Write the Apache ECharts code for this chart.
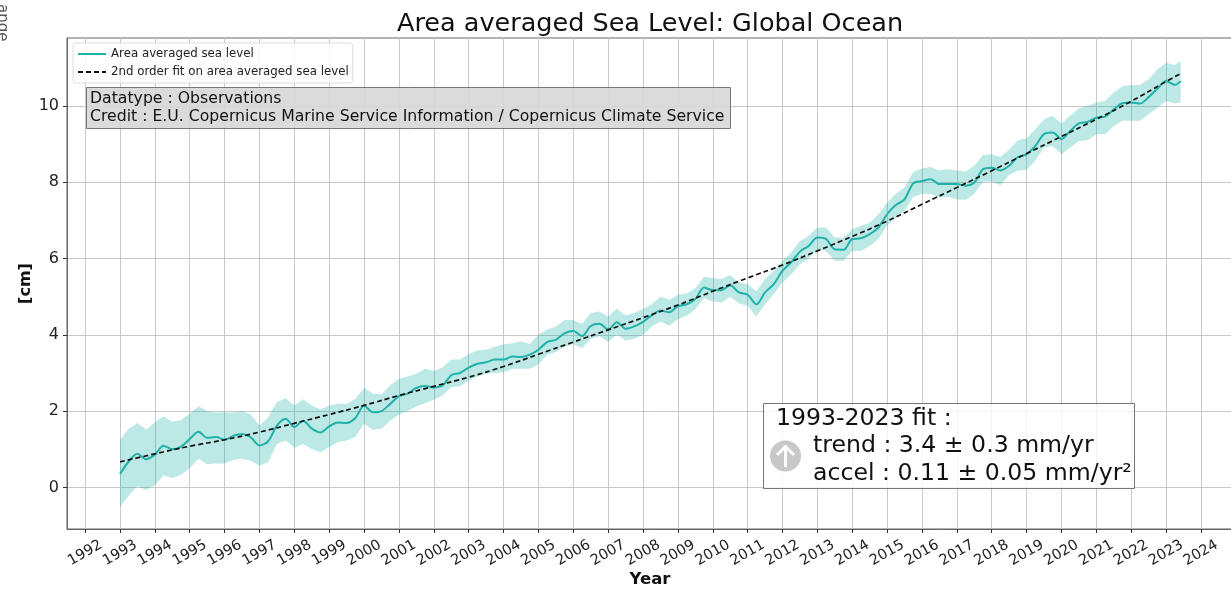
<!DOCTYPE html>
<html>
<head>
<meta charset="utf-8">
<title>Area averaged Sea Level</title>
<script src="https://cdn.jsdelivr.net/npm/echarts@6/dist/echarts.min.js"></script>
<style>
  html, body { margin: 0; padding: 0; background: #fff; }
  #chart { width: 1231px; height: 589px; }
</style>
</head>
<body>
<div id="chart"></div>
<script>
const yearTicks = [1992, 1993, 1994, 1995, 1996, 1997, 1998, 1999, 2000, 2001, 2002, 2003, 2004, 2005, 2006, 2007,
  2008, 2009, 2010, 2011, 2012, 2013, 2014, 2015, 2016, 2017, 2018, 2019, 2020, 2021, 2022, 2023, 2024]
const levelTicks = [0, 2, 4, 6, 8, 10]

const sampleYears = [
  1993, 1993.25, 1993.5, 1993.75, 1994, 1994.25, 1994.5, 1994.75,
  1995, 1995.25, 1995.5, 1995.75, 1996, 1996.25, 1996.5, 1996.75,
  1997, 1997.25, 1997.5, 1997.75, 1998, 1998.25, 1998.5, 1998.75,
  1999, 1999.25, 1999.5, 1999.75, 2000, 2000.25, 2000.5, 2000.75,
  2001, 2001.25, 2001.5, 2001.75, 2002, 2002.25, 2002.5, 2002.75,
  2003, 2003.25, 2003.5, 2003.75, 2004, 2004.25, 2004.5, 2004.75,
  2005, 2005.25, 2005.5, 2005.75, 2006, 2006.25, 2006.5, 2006.75,
  2007, 2007.25, 2007.5, 2007.75, 2008, 2008.25, 2008.5, 2008.75,
  2009, 2009.25, 2009.5, 2009.75, 2010, 2010.25, 2010.5, 2010.75,
  2011, 2011.25, 2011.5, 2011.75, 2012, 2012.25, 2012.5, 2012.75,
  2013, 2013.25, 2013.5, 2013.75, 2014, 2014.25, 2014.5, 2014.75,
  2015, 2015.25, 2015.5, 2015.75, 2016, 2016.25, 2016.5, 2016.75,
  2017, 2017.25, 2017.5, 2017.75, 2018, 2018.25, 2018.5, 2018.75,
  2019, 2019.25, 2019.5, 2019.75, 2020, 2020.25, 2020.5, 2020.75,
  2021, 2021.25, 2021.5, 2021.75, 2022, 2022.25, 2022.5, 2022.75,
  2023, 2023.25, 2023.42
]
const seaLevel = [
  0.35, 0.68, 0.88, 0.74, 0.86, 1.09, 1.00, 1.07,
  1.27, 1.46, 1.30, 1.32, 1.25, 1.35, 1.40, 1.31,
  1.10, 1.21, 1.62, 1.80, 1.58, 1.75, 1.54, 1.44,
  1.60, 1.70, 1.69, 1.82, 2.15, 1.97, 2.00, 2.19,
  2.39, 2.46, 2.61, 2.66, 2.62, 2.67, 2.94, 3.00,
  3.14, 3.24, 3.28, 3.35, 3.35, 3.43, 3.42, 3.48,
  3.61, 3.81, 3.87, 4.04, 4.10, 3.97, 4.23, 4.29,
  4.14, 4.33, 4.16, 4.22, 4.34, 4.51, 4.64, 4.59,
  4.75, 4.80, 4.94, 5.24, 5.17, 5.17, 5.30, 5.11,
  5.05, 4.80, 5.11, 5.33, 5.68, 5.90, 6.18, 6.33,
  6.55, 6.51, 6.24, 6.23, 6.51, 6.53, 6.64, 6.81,
  7.16, 7.40, 7.55, 7.97, 8.03, 8.08, 7.95, 7.95,
  7.95, 7.91, 7.99, 8.34, 8.38, 8.31, 8.43, 8.66,
  8.73, 8.95, 9.26, 9.30, 9.13, 9.34, 9.54, 9.58,
  9.69, 9.72, 9.91, 10.07, 10.09, 10.06, 10.23, 10.45,
  10.65, 10.55, 10.65
]
const bandUpper = [
  1.25, 1.54, 1.69, 1.52, 1.71, 1.86, 1.72, 1.77,
  1.93, 2.13, 2.00, 1.96, 1.97, 1.96, 2.00, 1.91,
  1.62, 1.84, 2.24, 2.34, 2.15, 2.31, 2.15, 2.04,
  2.15, 2.19, 2.19, 2.32, 2.61, 2.46, 2.44, 2.68,
  2.85, 2.91, 2.98, 3.11, 3.05, 3.14, 3.35, 3.35,
  3.50, 3.59, 3.61, 3.69, 3.75, 3.78, 3.83, 3.76,
  4.01, 4.13, 4.22, 4.39, 4.39, 4.29, 4.57, 4.61,
  4.48, 4.68, 4.51, 4.57, 4.68, 4.81, 5.00, 4.92,
  5.05, 5.08, 5.22, 5.52, 5.49, 5.46, 5.57, 5.37,
  5.33, 5.14, 5.46, 5.68, 5.94, 6.16, 6.46, 6.59,
  6.81, 6.81, 6.55, 6.55, 6.77, 6.86, 6.94, 7.16,
  7.46, 7.70, 7.86, 8.27, 8.36, 8.40, 8.31, 8.34,
  8.31, 8.28, 8.43, 8.72, 8.73, 8.66, 8.86, 9.10,
  9.15, 9.39, 9.65, 9.74, 9.54, 9.74, 9.94, 10.00,
  10.09, 10.13, 10.35, 10.52, 10.54, 10.55, 10.70, 10.96,
  11.13, 11.07, 11.18
]
const bandLower = [
  -0.51, -0.22, 0.04, -0.07, 0.06, 0.32, 0.25, 0.33,
  0.50, 0.75, 0.61, 0.63, 0.63, 0.72, 0.75, 0.70,
  0.57, 0.66, 1.14, 1.23, 1.04, 1.14, 1.01, 0.92,
  1.05, 1.19, 1.23, 1.32, 1.67, 1.51, 1.54, 1.75,
  1.91, 2.00, 2.12, 2.21, 2.30, 2.41, 2.63, 2.65,
  2.80, 2.91, 2.98, 3.00, 3.02, 3.11, 3.11, 3.11,
  3.22, 3.48, 3.55, 3.69, 3.76, 3.65, 3.90, 3.96,
  3.81, 4.01, 3.85, 3.90, 4.00, 4.22, 4.35, 4.24,
  4.41, 4.50, 4.67, 4.96, 4.87, 4.85, 5.00, 4.82,
  4.76, 4.48, 4.80, 5.07, 5.37, 5.59, 5.85, 6.00,
  6.24, 6.20, 5.94, 5.94, 6.20, 6.20, 6.33, 6.51,
  6.86, 7.07, 7.25, 7.61, 7.70, 7.70, 7.60, 7.62,
  7.55, 7.54, 7.69, 8.02, 8.01, 7.92, 8.19, 8.31,
  8.32, 8.56, 8.91, 8.95, 8.73, 8.91, 9.08, 9.10,
  9.26, 9.26, 9.47, 9.62, 9.61, 9.61, 9.78, 9.95,
  10.13, 10.06, 10.09
]

const fitYears = [1993, 1994, 1995, 1996, 1997, 1998, 1999, 2000, 2001, 2002, 2003, 2004, 2005, 2006, 2007, 2008,
  2009, 2010, 2011, 2012, 2013, 2014, 2015, 2016, 2017, 2018, 2019, 2020, 2021, 2022, 2023, 2023.42]
const fitLevel = [0.67, 0.88, 1.08, 1.25, 1.45, 1.68, 1.91, 2.15, 2.41, 2.65, 2.89, 3.17, 3.49, 3.81, 4.13, 4.45,
  4.78, 5.14, 5.49, 5.83, 6.20, 6.58, 6.98, 7.42, 7.86, 8.30, 8.75, 9.20, 9.65, 10.12, 10.64, 10.85]

const fontFamily = '"DejaVu Sans"'
const teal = '#20b2aa'

const pairs = (xs, ys) => xs.map((x, i) => [x, ys[i]])

// the shaded band is one closed polygon, upper edge out and lower edge back
const renderBand = (params, api) => {
  if (params.dataIndex !== 0) return
  const top = sampleYears.map((x, i) => api.coord([x, bandUpper[i]]))
  const bottom = sampleYears.map((x, i) => api.coord([x, bandLower[i]])).reverse()
  return {
    type: 'polygon',
    shape: { points: top.concat(bottom) },
    style: { fill: teal, opacity: 0.3 }
  }
}

const chart = echarts.init(document.getElementById('chart'))
const option = {
  animation: false,
  textStyle: { fontFamily },
  title: {
    text: 'Area averaged Sea Level: Global Ocean',
    left: 397,
    top: 11,
    padding: 0,
    textStyle: { fontFamily, fontSize: 25.5, fontWeight: 'normal', color: '#111' }
  },
  legend: {
    left: 73,
    top: 43,
    orient: 'vertical',
    data: ['Area averaged sea level', '2nd order fit on area averaged sea level'],
    itemWidth: 28,
    itemHeight: 10,
    itemGap: 6,
    padding: [5, 4, 5, 4],
    backgroundColor: 'rgba(255,255,255,0.8)',
    borderColor: '#ddd',
    borderWidth: 1,
    borderRadius: 3,
    itemStyle: { color: 'transparent', borderColor: 'transparent' },
    textStyle: { fontFamily, fontSize: 11.8, color: '#222' }
  },
  grid: {
    show: true,
    left: 67,
    top: 38,
    right: -2,
    bottom: 60,
    outerBoundsMode: 'none',
    borderColor: '#666',
    borderWidth: 1
  },
  xAxis: {
    type: 'value',
    min: 1991.48,
    max: 2024.92,
    name: 'Year',
    nameLocation: 'middle',
    nameGap: 42,
    nameMoveOverlap: false,
    nameTextStyle: { fontFamily, fontSize: 16.5, fontWeight: 'bold', color: '#111' },
    axisLine: { onZero: false, lineStyle: { color: '#666' } },
    axisTick: { length: 4, lineStyle: { color: '#333' }, customValues: yearTicks },
    axisLabel: {
      customValues: yearTicks,
      rotate: 30,
      align: 'center',
      verticalAlign: 'middle',
      margin: 24,
      fontSize: 14.5,
      color: '#222',
      formatter: v => String(v),
      hideOverlap: false
    },
    splitLine: { show: true, lineStyle: { color: '#c8c8c8', width: 1 } }
  },
  yAxis: {
    type: 'value',
    min: -1.09,
    max: 11.78,
    name: '[cm]',
    nameLocation: 'middle',
    nameGap: 33,
    nameMoveOverlap: false,
    nameTextStyle: { fontFamily, fontSize: 16, fontWeight: 'bold', color: '#111' },
    axisLine: { show: true, onZero: false, lineStyle: { color: '#666' } },
    axisTick: { show: true, length: 4, lineStyle: { color: '#333' }, customValues: levelTicks },
    axisLabel: { customValues: levelTicks, fontSize: 16, color: '#222', margin: 8 },
    splitLine: { show: true, lineStyle: { color: '#c8c8c8', width: 1 } }
  },
  series: [
    {
      name: 'band',
      type: 'custom',
      renderItem: renderBand,
      silent: true,
      data: pairs(sampleYears, bandUpper)
    },
    {
      name: 'Area averaged sea level',
      type: 'line',
      smooth: 0.3,
      symbol: 'none',
      color: teal,
      lineStyle: { color: teal, width: 2 },
      data: pairs(sampleYears, seaLevel)
    },
    {
      name: '2nd order fit on area averaged sea level',
      type: 'line',
      smooth: true,
      symbol: 'none',
      color: '#111',
      lineStyle: { color: '#111', width: 1.7, type: [5, 3] },
      data: pairs(fitYears, fitLevel)
    }
  ],
  graphic: [
    {
      type: 'text',
      x: 9,
      y: 4,
      rotation: -Math.PI / 2,
      style: { text: 'ange', font: '15px "DejaVu Sans"', fill: '#555' }
    },
    {
      type: 'rect',
      shape: { x: 86.5, y: 87.5, width: 644, height: 41 },
      style: { fill: 'rgba(215,215,215,0.9)', stroke: '#777', lineWidth: 1 },
      z: 10
    },
    {
      type: 'text',
      x: 90,
      y: 90,
      z: 11,
      style: { text: 'Datatype : Observations\nCredit : E.U. Copernicus Marine Service Information / Copernicus Climate Service',
        font: '15.7px "DejaVu Sans"', fill: '#111', lineHeight: 18 }
    },
    {
      type: 'rect',
      shape: { x: 763.5, y: 403.5, width: 371, height: 85 },
      style: { fill: 'rgba(255,255,255,0.8)', stroke: '#777', lineWidth: 1 },
      z: 10
    },
    {
      type: 'text',
      x: 776,
      y: 405,
      z: 11,
      style: { text: '1993-2023 fit :', font: '23.6px "DejaVu Sans"', fill: '#111', lineHeight: 27 }
    },
    {
      type: 'text',
      x: 813,
      y: 432,
      z: 11,
      style: { text: 'trend : 3.4 ± 0.3 mm/yr\naccel : 0.11 ± 0.05 mm/yr²', font: '23.6px "DejaVu Sans"', fill: '#111', lineHeight: 28 }
    },
    {
      type: 'circle',
      shape: { cx: 785.5, cy: 456, r: 15.5 },
      style: { fill: '#c8c8c8' },
      z: 11
    },
    {
      type: 'polyline',
      shape: { points: [[785.5, 467], [785.5, 447]] },
      style: { stroke: '#fff', lineWidth: 3, fill: null },
      z: 12
    },
    {
      type: 'polyline',
      shape: { points: [[777, 455], [785.5, 446.5], [794, 455]] },
      style: { stroke: '#fff', lineWidth: 3, fill: null },
      z: 12
    }
  ]
}
chart.setOption(option)
</script>
</body>
</html>
